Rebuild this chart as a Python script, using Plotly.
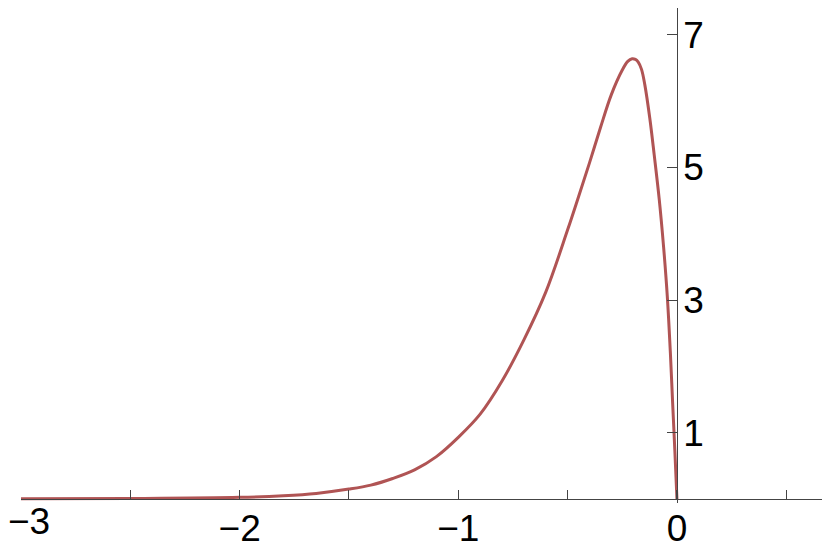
import plotly.graph_objects as go

# curve
x_vals = [-3.0, -2.5, -2.0, -1.8, -1.65, -1.5, -1.4, -1.3, -1.2, -1.1, -1.0,
          -0.9, -0.8, -0.7, -0.6, -0.5, -0.45, -0.4, -0.35, -0.3, -0.25,
          -0.225, -0.205, -0.19, -0.177, -0.162, -0.147, -0.124, -0.104, -0.081,
          -0.061, -0.044, -0.030, -0.020, -0.0096, 0.0]
y_vals = [0.003, 0.008, 0.025, 0.05, 0.085, 0.15, 0.21, 0.31, 0.44, 0.64, 0.93,
          1.28, 1.78, 2.40, 3.12, 4.06, 4.56, 5.07, 5.60, 6.10, 6.47,
          6.60, 6.64, 6.63, 6.59, 6.48, 6.25, 5.74, 5.19, 4.52,
          3.80, 3.05, 2.20, 1.47, 0.73, 0.0]

x_ticks = [-3, -2.5, -2, -1.5, -1, -0.5, 0, 0.5]
x_labels = ["", "", "\u22122", "", "\u22121", "", "0", ""]
# first label sits on its own overlay axis so it can be nudged inside the page
first_tick = [-3]
first_label = ["\u22123"]
y_ticks = [1, 3, 5, 7]
y_labels = ["1", "3", "5", "7"]

x_range = [-3.0, 0.70]
y_range = [-0.06, 7.406]

axis_color = "#444444"
font = dict(family="Liberation Sans, Arial, sans-serif", size=37, color="black")

fig = go.Figure()
fig.add_trace(go.Scatter(
    x=x_vals, y=y_vals, mode="lines",
    line=dict(color="#b05454", width=3, shape="spline", smoothing=1),
    showlegend=False, hoverinfo="skip",
))
# invisible helper so the overlay x axis gets drawn
fig.add_trace(go.Scatter(
    x=first_tick, y=y_vals[:1], mode="markers", xaxis="x2",
    marker=dict(opacity=0), showlegend=False, hoverinfo="skip",
))

y0_pos = (0 - y_range[0]) / (y_range[1] - y_range[0])
x0_pos = (0 - x_range[0]) / (x_range[1] - x_range[0])

# the page body adds an 8px offset, so the figure is 8px smaller each way
fig.update_layout(
    width=822, height=541,
    margin=dict(l=13, r=0, t=0, b=46),
    paper_bgcolor="white", plot_bgcolor="white",
    font=font,
    xaxis=dict(
        range=x_range, showgrid=False, zeroline=False, automargin=False,
        showline=True, linecolor=axis_color, linewidth=1,
        anchor="free", position=y0_pos, side="bottom",
        ticks="inside", ticklen=9, tickcolor=axis_color, tickwidth=1,
        tickvals=x_ticks, ticktext=x_labels, ticklabelstandoff=-3,
        ticklabeloverflow="allow",
    ),
    xaxis2=dict(
        range=x_range, overlaying="x", showgrid=False, zeroline=False,
        automargin=False, showline=False, anchor="free", position=y0_pos,
        side="bottom", ticks="", tickvals=first_tick, ticktext=first_label,
        ticklabelstandoff=-3, ticklabelshift=8, ticklabeloverflow="allow",
    ),
    yaxis=dict(
        range=y_range, showgrid=False, zeroline=False, automargin=False,
        showline=True, linecolor=axis_color, linewidth=1,
        anchor="free", position=x0_pos, side="right",
        ticks="inside", ticklen=10, tickcolor=axis_color, tickwidth=1,
        tickvals=y_ticks, ticktext=y_labels, ticklabelstandoff=-2,
        ticklabeloverflow="allow",
    ),
    yaxis2=dict(
        range=y_range, overlaying="y", showgrid=False, zeroline=False,
        automargin=False, showline=False, anchor="free", position=x0_pos,
        side="right", ticks="outside", ticklen=7, tickcolor=axis_color,
        tickwidth=1, tickvals=y_ticks, showticklabels=False,
    ),
)

fig.write_html("out.html")
